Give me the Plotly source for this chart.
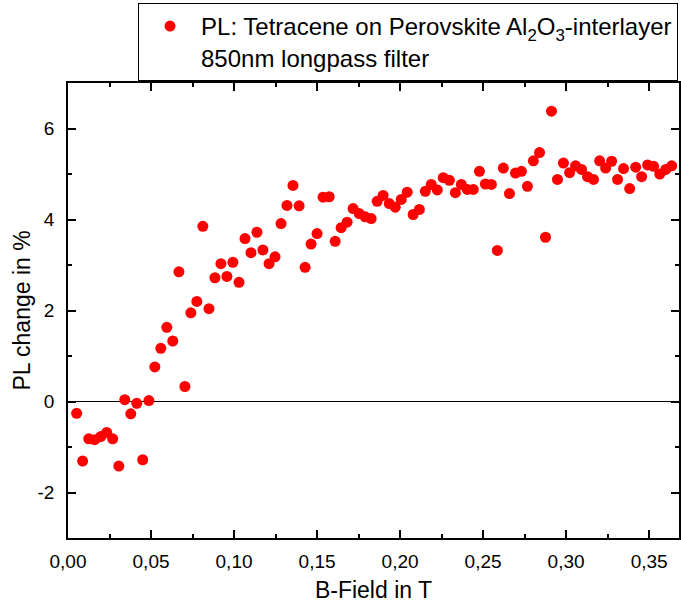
import plotly.graph_objects as go

b_field = [0.0052, 0.0088, 0.0125, 0.0161, 0.0197, 0.0233, 0.0269, 0.0306, 0.0342, 0.0378,
           0.0414, 0.0450, 0.0487, 0.0523, 0.0559, 0.0595, 0.0631, 0.0668, 0.0704, 0.0740,
           0.0776, 0.0812, 0.0849, 0.0885, 0.0921, 0.0957, 0.0993, 0.1030, 0.1066, 0.1102,
           0.1138, 0.1174, 0.1211, 0.1247, 0.1283, 0.1319, 0.1355, 0.1392, 0.1428, 0.1464,
           0.1500, 0.1536, 0.1573, 0.1609, 0.1645, 0.1681, 0.1717, 0.1754, 0.1790, 0.1826,
           0.1862, 0.1898, 0.1935, 0.1971, 0.2007, 0.2043, 0.2079, 0.2116, 0.2152, 0.2188,
           0.2224, 0.2260, 0.2297, 0.2333, 0.2369, 0.2405, 0.2441, 0.2478, 0.2514, 0.2550,
           0.2586, 0.2622, 0.2659, 0.2695, 0.2731, 0.2767, 0.2803, 0.2840, 0.2876, 0.2912,
           0.2948, 0.2984, 0.3021, 0.3057, 0.3093, 0.3129, 0.3165, 0.3202, 0.3238, 0.3274,
           0.3310, 0.3346, 0.3383, 0.3419, 0.3455, 0.3491, 0.3527, 0.3564, 0.3600, 0.3636]

pl_change = [-0.26, -1.31, -0.82, -0.84, -0.77, -0.68, -0.82, -1.42, 0.04, -0.27,
             -0.04, -1.28, 0.02, 0.76, 1.17, 1.63, 1.33, 2.85, 0.33, 1.95,
             2.20, 3.85, 2.04, 2.72, 3.03, 2.75, 3.06, 2.62, 3.58, 3.27,
             3.72, 3.33, 3.03, 3.18, 3.91, 4.31, 4.75, 4.30, 2.95, 3.46,
             3.69, 4.49, 4.50, 3.52, 3.82, 3.94, 4.24, 4.13, 4.06, 4.02,
             4.40, 4.53, 4.35, 4.27, 4.44, 4.60, 4.11, 4.22, 4.62, 4.77,
             4.65, 4.92, 4.86, 4.59, 4.77, 4.66, 4.66, 5.06, 4.78, 4.77,
             3.32, 5.13, 4.57, 5.02, 5.06, 4.73, 5.29, 5.47, 3.61, 6.38,
             4.88, 5.24, 5.03, 5.18, 5.10, 4.94, 4.88, 5.29, 5.13, 5.28,
             4.88, 5.12, 4.68, 5.15, 4.94, 5.20, 5.17, 5.00, 5.10, 5.18]

x_tick_vals = [0.00, 0.05, 0.10, 0.15, 0.20, 0.25, 0.30, 0.35]
x_tick_text = ["0,00", "0,05", "0,10", "0,15", "0,20", "0,25", "0,30", "0,35"]
y_tick_vals = [-2, 0, 2, 4, 6]
y_tick_text = ["-2", "0", "2", "4", "6"]

series_name = "PL: Tetracene on Perovskite Al<sub>2</sub>O<sub>3</sub>-interlayer<br>850nm longpass filter"

FONT = "Liberation Sans, Arial, sans-serif"

fig = go.Figure()
fig.add_trace(go.Scatter(
    x=b_field, y=pl_change, mode="markers", name=series_name,
    marker=dict(color="#ff0000", size=11, line=dict(width=0)),
    showlegend=True,
))

axis_common = dict(
    showline=True, linecolor="black", linewidth=1.5, mirror="ticks",
    ticks="inside", ticklen=8, tickwidth=1.5, tickcolor="black",
    showgrid=False,
    tickfont=dict(family=FONT, size=19, color="black"),
)

fig.update_xaxes(
    range=[0, 0.368], tickvals=x_tick_vals, ticktext=x_tick_text,
    minor=dict(dtick=0.025, ticks="inside", ticklen=4, tickwidth=1.5, tickcolor="black", showgrid=False),
    zeroline=False, ticklabelstandoff=5,
    title=dict(text="B-Field in T", font=dict(family=FONT, size=23, color="black"), standoff=16),
    **axis_common,
)
fig.update_yaxes(
    range=[-3, 7], tickvals=y_tick_vals, ticktext=y_tick_text,
    minor=dict(dtick=1, ticks="inside", ticklen=4, tickwidth=1.5, tickcolor="black", showgrid=False),
    zeroline=True, zerolinecolor="black", zerolinewidth=1, ticklabelstandoff=8,
    title=dict(text="PL change in %", font=dict(family=FONT, size=23, color="black"), standoff=0),
    **axis_common,
)

fig.update_layout(
    width=681, height=603,
    margin=dict(l=68, r=2, t=83, b=65, autoexpand=False),
    plot_bgcolor="white", paper_bgcolor="white",
    font=dict(family=FONT, color="black"),
    legend=dict(
        x=0.1146, y=1.1758, xanchor="left", yanchor="top",
        bgcolor="white", bordercolor="black", borderwidth=1,
        font=dict(family=FONT, size=24, color="black"),
        itemwidth=52, valign="top",
    ),
)

fig.write_html("out.html", config={"displayModeBar": False},
               post_script="document.body.style.margin='0';")
